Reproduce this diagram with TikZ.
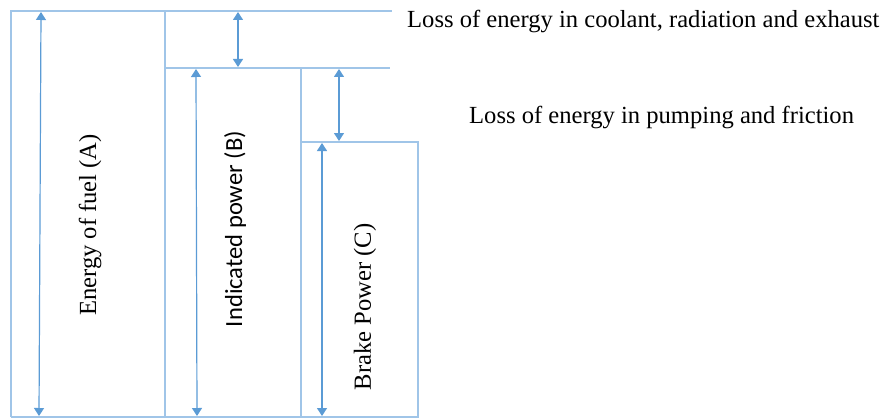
\documentclass[tikz,border=0pt]{standalone}
\usepackage{fontspec}
\setmainfont{Liberation Serif}
\newfontfamily\labelsans{Carlito}
\usepackage{xcolor}
\usetikzlibrary{arrows.meta, positioning}

\definecolor{framecol}{RGB}{160,197,232}
\definecolor{arrowcol}{RGB}{91,155,213}

\begin{document}
\begin{tikzpicture}[
        x=1pt, y=-1pt,
        >={Triangle[width=10pt,length=8pt]},
        frame/.style={draw=framecol, line width=1.5pt},
        flow/.style={<->, draw=arrowcol, line width=1.2pt},
        note/.style={font=\fontsize{24.6}{28}\selectfont, inner sep=0pt},
        vlabel/.style={note, rotate=90}
        ]
        \useasboundingbox (0,0) rectangle (886,420);

        % Frame of the three steps
        \coordinate (A0) at (11,11);
        \coordinate (A1) at (11,417);
        \coordinate (B0) at (165,11);
        \coordinate (B1) at (165,68);
        \coordinate (C0) at (301,68);
        \coordinate (C1) at (301,142);
        \coordinate (D0) at (418,142);
        \coordinate (D1) at (418,417);
        \coordinate (topE) at (392,11);
        \coordinate (midE) at (390,68);

        \draw[frame] (A1) -- (A0) -- (topE);
        \draw[frame] (B0) -- (165,417);
        \draw[frame] (B1) -- (midE);
        \draw[frame] (C0) -- (301,417);
        \draw[frame] (C1) -- (D0) -- (D1) -- (A1);

        % Arrow ends
        \coordinate (fuelT) at (41,12);
        \coordinate (fuelB) at (39,416);
        \coordinate (indT) at (196,69);
        \coordinate (indB) at (197,416);
        \coordinate (brkT) at (322,143);
        \coordinate (brkB) at (322,416);
        \coordinate (lossAT) at (238,12);
        \coordinate (lossAB) at (238,67);
        \coordinate (lossBT) at (339,69);
        \coordinate (lossBB) at (339,141);

        % Power arrows
        \draw[flow] (fuelT) -- (fuelB);
        \draw[flow] (indT) -- (indB);
        \draw[flow] (brkT) -- (brkB);

        % Loss arrows
        \draw[flow] (lossAT) -- (lossAB);
        \draw[flow] (lossBT) -- (lossBB);

        % Labels
        \node[vlabel] (fuel) at (90,225) {Energy of fuel (A)};
        \node[vlabel, font=\labelsans\fontsize{24.6}{28}\selectfont] (ind) at (235,229) {Indicated power (B)};
        \node[vlabel] (brk) at (365,307) {Brake Power (C)};

        \node[note, anchor=base west] (lossA) at (407,28) {Loss of energy in coolant, radiation and exhaust};
        \node[note, anchor=base west] (lossB) at (469,123) {Loss of energy in pumping and friction};

    \end{tikzpicture}
\end{document}
